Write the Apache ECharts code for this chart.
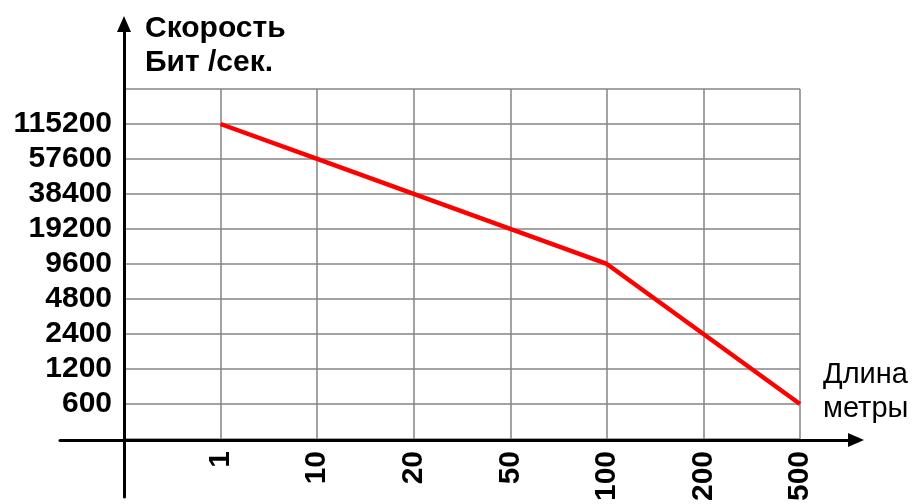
<!DOCTYPE html>
<html>
<head>
<meta charset="utf-8">
<script src="https://cdn.jsdelivr.net/npm/echarts@6/dist/echarts.min.js"></script>
<style>
html,body{margin:0;padding:0;background:#fff;}
#chart{width:914px;height:504px;}
</style>
</head>
<body>
<div id="chart"></div>
<script>
// Categories (distance, metres) — first blank slot sits on the y-axis
const distanceCategories = ['', '1', '10', '20', '50', '100', '200', '500'];
// Speed categories (bit/s), bottom to top; blanks at the axis and top edge
const speedCategories = ['', '600', '1200', '2400', '4800', '9600', '19200', '38400', '57600', '115200', ''];
// Series: speed at each distance
const seriesDistance = ['1', '10', '20', '50', '100', '200', '500'];
const seriesSpeed = ['115200', '57600', '38400', '19200', '9600', '2400', '600'];

const titleY = 'Скорость\nБит /сек.';
const titleX = 'Длина\nметры';

const FONT = '"Liberation Sans", Arial, sans-serif';
const chart = echarts.init(document.getElementById('chart'));

const gridLine = { show: true, lineStyle: { color: '#858585', width: 1.5 } };

chart.setOption({
  animation: false,
  backgroundColor: '#ffffff',
  title: [
    { text: titleY, left: 140, top: 7,
      textStyle: { fontFamily: FONT, fontSize: 30, fontWeight: 'bold', color: '#000', lineHeight: 34 } },
    { text: titleX, left: 818, top: 353,
      textStyle: { fontFamily: FONT, fontSize: 29, fontWeight: 'normal', color: '#000', lineHeight: 34 } }
  ],
  grid: [
    { left: 124, right: 114, top: 89, bottom: 64 },
    { left: 60, right: 58, top: 89, bottom: 64 },
    { left: 124, right: 114, top: 24, bottom: 7 }
  ],
  xAxis: [
    { gridIndex: 0, type: 'category', data: distanceCategories, boundaryGap: false,
      axisLine: { show: false }, axisTick: { show: false }, splitLine: gridLine,
      axisLabel: { rotate: 90, margin: 12, interval: 0, fontFamily: FONT, fontSize: 30, fontWeight: 'bold', color: '#000' } },
    { gridIndex: 1, type: 'value', min: 0, max: 1,
      axisLine: { show: true, symbol: ['none', 'triangle'], symbolSize: [14, 16], lineStyle: { color: '#000', width: 3 } },
      axisTick: { show: false }, axisLabel: { show: false }, splitLine: { show: false } },
    { gridIndex: 2, type: 'value', show: false }
  ],
  yAxis: [
    { gridIndex: 0, type: 'category', data: speedCategories, boundaryGap: false,
      axisLine: { show: false }, axisTick: { show: false }, splitLine: gridLine,
      axisLabel: { margin: 12, interval: 0, fontFamily: FONT, fontSize: 30, fontWeight: 'bold', color: '#000' } },
    { gridIndex: 1, type: 'value', show: false },
    { gridIndex: 2, type: 'value', min: 0, max: 1,
      axisLine: { show: true, symbol: ['none', 'triangle'], symbolSize: [14, 16], lineStyle: { color: '#000', width: 3 } },
      axisTick: { show: false }, axisLabel: { show: false }, splitLine: { show: false } }
  ],
  series: [
    { type: 'line', xAxisIndex: 0, yAxisIndex: 0,
      data: seriesDistance.map((d, i) => [d, seriesSpeed[i]]),
      symbol: 'none', lineStyle: { color: '#ff0000', width: 4.5 }, z: 5 }
  ]
});
</script>
</body>
</html>
